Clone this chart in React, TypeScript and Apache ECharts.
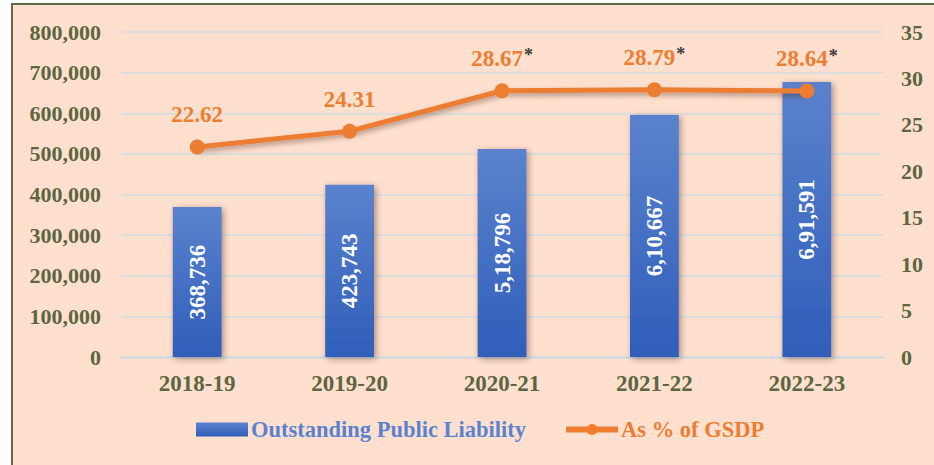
import React, { useEffect, useRef } from "react";
import * as echarts from "echarts";

const categories = ["2018-19", "2019-20", "2020-21", "2021-22", "2022-23"];
// Bar heights as drawn in the picture
const liabilityValues = [369000, 424000, 512000, 596000, 677000];
// Labels printed inside the bars
const liabilityLabels = ["368,736", "423,743", "5,18,796", "6,10,667", "6,91,591"];
const gsdpValues = [22.62, 24.31, 28.67, 28.79, 28.64];
const gsdpStarred = [false, false, true, true, true];
const leftTicks = [0, 100000, 200000, 300000, 400000, 500000, 600000, 700000, 800000];
const rightTicks = [0, 5, 10, 15, 20, 25, 30, 35];

const FONT = "Liberation Serif, DejaVu Serif, serif";
const AXIS_COLOR = "#5C6641";
const ORANGE = "#ED7D31";
const BLUE_TEXT = "#5B82CE";

export default function App() {
  const ref = useRef<HTMLDivElement>(null);
  useEffect(() => {
    if (!ref.current) return;
    const chart = echarts.init(ref.current, null, { renderer: "svg" });
    const barGrad = new echarts.graphic.LinearGradient(0, 0, 0, 1, [
      { offset: 0, color: "#5B82CD" },
      { offset: 1, color: "#2F5EB9" },
    ]);
    chart.setOption({
      animation: false,
      backgroundColor: "#FFFFFF",
      textStyle: { fontFamily: FONT },
      graphic: [
        {
          type: "rect",
          z: -10,
          silent: true,
          shape: { x: 12, y: 4, width: 940, height: 480 },
          style: { fill: "#FFE0CF", stroke: "#5E6A45", lineWidth: 2 },
        },
      ],
      grid: { left: 121, right: 51, top: 32, bottom: 108 },
      legend: {
        bottom: 19,
        left: 191,
        itemGap: 37,
        itemWidth: 52,
        itemHeight: 14,
        data: [
          {
            name: "Outstanding Public Liability",
            icon: "rect",
            itemStyle: { color: barGrad },
            textStyle: { color: BLUE_TEXT },
          },
          {
            name: "As % of GSDP",
            itemStyle: { color: ORANGE },
            lineStyle: { color: ORANGE, width: 6 },
            textStyle: { color: ORANGE },
          },
        ],
        textStyle: { fontFamily: FONT, fontWeight: "bold", fontSize: 22.5, padding: [0, 0, 0, -2] },
      },
      xAxis: {
        type: "category",
        data: categories,
        axisTick: { show: false },
        axisLine: { lineStyle: { color: "#D2DADF", width: 2.5 } },
        axisLabel: {
          color: AXIS_COLOR,
          fontFamily: FONT,
          fontWeight: "bold",
          fontSize: 23,
          margin: 15,
        },
      },
      yAxis: [
        {
          type: "value",
          min: leftTicks[0],
          max: leftTicks[leftTicks.length - 1],
          interval: 100000,
          axisLine: { show: false },
          axisTick: { show: false },
          splitLine: { lineStyle: { color: "#CFDCE4", width: 1.5 } },
          axisLabel: {
            color: AXIS_COLOR,
            fontFamily: FONT,
            fontWeight: "bold",
            fontSize: 22,
            margin: 20,
            formatter: (v: number) => v.toLocaleString("en-US"),
          },
        },
        {
          type: "value",
          min: rightTicks[0],
          max: rightTicks[rightTicks.length - 1],
          interval: 5,
          axisLine: { show: false },
          axisTick: { show: false },
          splitLine: { show: false },
          axisLabel: {
            color: AXIS_COLOR,
            fontFamily: FONT,
            fontWeight: "bold",
            fontSize: 22,
            margin: 18,
          },
        },
      ],
      series: [
        {
          name: "Outstanding Public Liability",
          type: "bar",
          yAxisIndex: 0,
          barWidth: "32%",
          data: liabilityValues,
          itemStyle: {
            color: barGrad,
            shadowColor: "rgba(60,40,30,0.45)",
            shadowBlur: 6,
            shadowOffsetX: 2,
            shadowOffsetY: 2,
          },
          label: {
            show: true,
            position: "inside",
            rotate: 90,
            color: "#FFFFFF",
            fontFamily: FONT,
            fontWeight: "bold",
            fontSize: 23,
            formatter: (p: any) => liabilityLabels[p.dataIndex],
          },
        },
        {
          name: "As % of GSDP",
          type: "line",
          yAxisIndex: 1,
          data: gsdpValues,
          symbol: "circle",
          symbolSize: 15,
          lineStyle: {
            color: ORANGE,
            width: 5,
            shadowColor: "rgba(60,40,30,0.4)",
            shadowBlur: 5,
            shadowOffsetY: 3,
          },
          itemStyle: { color: ORANGE },
          label: {
            show: true,
            position: "top",
            distance: 13,
            formatter: (p: any) =>
              gsdpStarred[p.dataIndex]
                ? `{v|${gsdpValues[p.dataIndex].toFixed(2)}}{s|*}`
                : `{v|${gsdpValues[p.dataIndex].toFixed(2)}}`,
            rich: {
              v: { color: ORANGE, fontFamily: FONT, fontWeight: "bold", fontSize: 23 },
              s: { color: "#3A3A3A", fontFamily: FONT, fontWeight: "bold", fontSize: 18, verticalAlign: "top", padding: [0, 0, 6, 1] },
            },
          },
          z: 5,
        },
      ],
    });
    return () => chart.dispose();
  }, []);
  return (
    <div
      ref={ref}
      style={{ position: "fixed", left: 0, top: 0, width: 934, height: 465 }}
    />
  );
}
